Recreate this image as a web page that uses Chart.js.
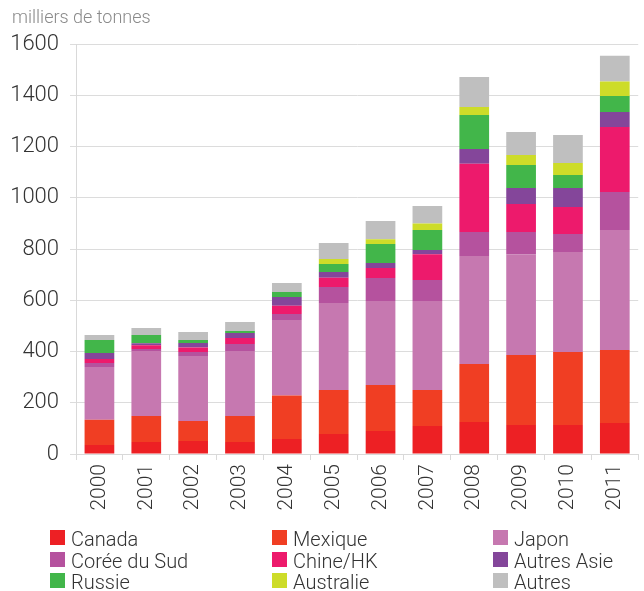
<!DOCTYPE html>
<html>
<head>
<meta charset="utf-8">
<script src="https://cdn.jsdelivr.net/npm/chart.js@4/dist/chart.umd.min.js"></script>
<style>
  html, body { margin: 0; padding: 0; background: #fff; }
  #wrap { position: relative; width: 644px; height: 591px; overflow: hidden; }
  #c { position: absolute; left: 0; top: 0; }
  #unit { position: absolute; left: 12px; top: 6px; font: 300 18px Roboto, "DejaVu Sans", sans-serif; color: #8a8a8a; white-space: nowrap; }
  #legend { position: absolute; left: 0; top: 0; width: 644px; height: 591px; pointer-events: none; }
  .item { position: absolute; height: 22px; line-height: 22px; font: 300 20px Roboto, "DejaVu Sans", sans-serif; color: #333; white-space: nowrap; }
  .box { position: absolute; left: 0; top: 3px; width: 15px; height: 15px; }
  .lbl { position: absolute; left: 21px; top: 0; }
</style>
</head>
<body>
<div id="wrap">
  <canvas id="c" width="644" height="591"></canvas>
  <div id="unit">milliers de tonnes</div>
  <div id="legend"></div>
</div>
<script>
const years = ["2000","2001","2002","2003","2004","2005","2006","2007","2008","2009","2010","2011"];
const canada     = [35, 47, 51, 47, 59, 78, 90, 109, 125, 113, 113, 121];
const mexique    = [99, 101, 78, 101, 169, 172, 179, 141, 226, 273, 285, 285];
const japon      = [206, 254, 253, 254, 295, 339, 328, 347, 422, 394, 390, 468];
const coree      = [15, 8, 16, 27, 23, 63, 90, 82, 93, 86, 71, 148];
const chine      = [16, 14, 18, 24, 33, 36, 39, 101, 267, 110, 105, 254];
const autresAsie = [23, 8, 17, 19, 34, 22, 19, 16, 57, 62, 74, 59];
const russie     = [51, 32, 12, 8, 19, 31, 75, 78, 133, 90, 51, 62];
const australie  = [0, 0, 0, 0, 0, 20, 18, 26, 31, 39, 47, 57];
const autres     = [19, 28, 31, 35, 35, 62, 71, 68, 117, 90, 109, 100];
const yTicks     = [0, 200, 400, 600, 800, 1000, 1200, 1400, 1600];
const yTickLabels = ["0", "200", "400", "600", "800", "1000", "1200", "1400", "1600"];

const seriesNames  = ["Canada", "Mexique", "Japon", "Corée du Sud", "Chine/HK", "Autres Asie", "Russie", "Australie", "Autres"];
const seriesData   = [canada, mexique, japon, coree, chine, autresAsie, russie, australie, autres];
const seriesColors = ["#ED2024", "#F03E23", "#C678B0", "#B5529E", "#ED1A6C", "#84469A", "#42B64A", "#CDDC29", "#BFBFBF"];

const FONT = 'Roboto, "DejaVu Sans", sans-serif';

const datasets = seriesNames.map((n, i) => ({
  label: n,
  data: seriesData[i],
  backgroundColor: seriesColors[i],
  borderWidth: 0,
  barPercentage: 0.634,
  categoryPercentage: 1.0
}));

new Chart(document.getElementById('c'), {
  type: 'bar',
  data: { labels: years, datasets },
  options: {
    responsive: false,
    animation: false,
    layout: { padding: { top: 44, right: 0, bottom: 67, left: 0 } },
    plugins: { legend: { display: false }, tooltip: { enabled: false }, title: { display: false } },
    scales: {
      x: {
        stacked: true,
        afterFit: s => { s.height = 70; },
        grid: { display: true, drawOnChartArea: false, drawTicks: true, tickLength: 6, color: '#d9d9d9', offset: true },
        border: { display: true, color: '#d9d9d9' },
        ticks: { minRotation: 90, maxRotation: 90, autoSkip: false, padding: 4, color: '#333', font: { family: FONT, size: 21, weight: '300' } }
      },
      y: {
        stacked: true,
        min: 0, max: 1600,
        afterFit: s => { s.width = 76; },
        afterBuildTicks: s => { s.ticks = yTicks.map(v => ({ value: v })); },
        grid: { color: '#dcdcdc', tickLength: 6, lineWidth: 1 },
        border: { display: true, color: '#d9d9d9' },
        ticks: {
          padding: 11, color: '#333', font: { family: FONT, size: 22, weight: '300' },
          callback: (v) => { const k = yTicks.indexOf(v); return k >= 0 ? yTickLabels[k] : String(v); }
        }
      }
    }
  }
});

// legend in 3 columns, built from the series arrays
const legend = document.getElementById('legend');
const colX = [50, 272, 493];
const rowY = [527, 548.5, 570];
seriesNames.forEach((n, i) => {
  const d = document.createElement('div');
  d.className = 'item';
  d.style.left = colX[i % 3] + 'px';
  d.style.top = rowY[Math.floor(i / 3)] + 'px';
  const b = document.createElement('div');
  b.className = 'box';
  b.style.background = seriesColors[i];
  const t = document.createElement('span');
  t.className = 'lbl';
  t.textContent = n;
  d.appendChild(b); d.appendChild(t);
  legend.appendChild(d);
});
</script>
</body>
</html>
